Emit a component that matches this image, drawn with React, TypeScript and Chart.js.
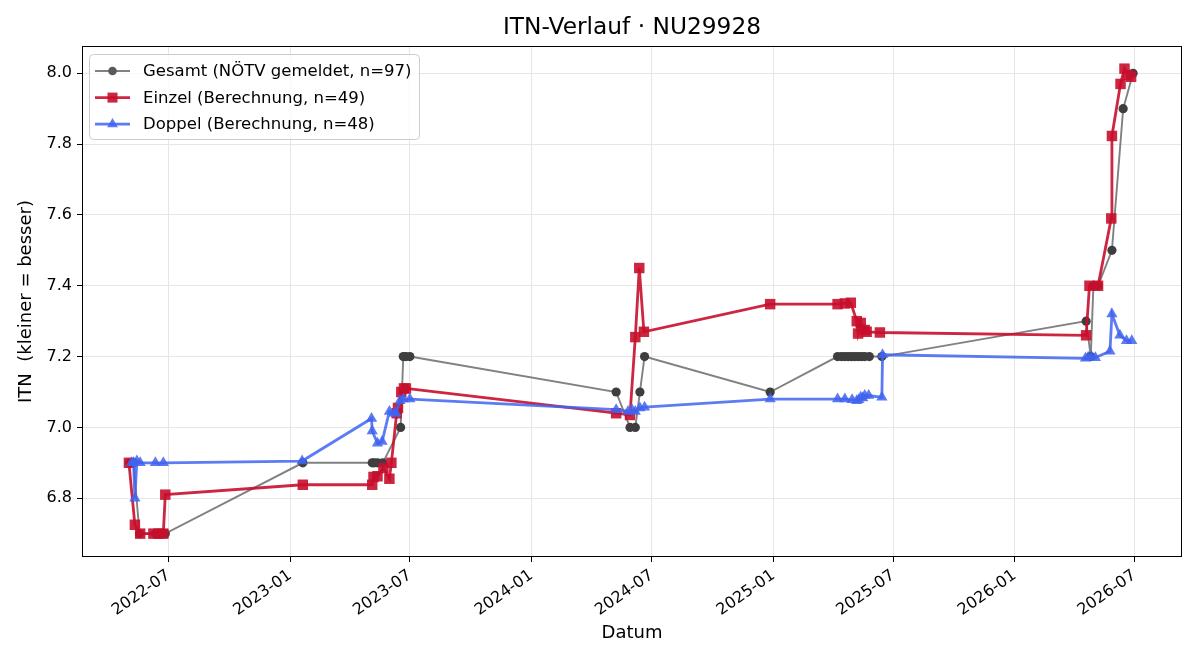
import React, { useEffect, useRef } from "react";
import { Chart, registerables } from "chart.js";

Chart.register(...registerables);

// ---------- data ----------
const gesamtDates = [
  "2022-05-03", "2022-05-06", "2022-05-09", "2022-05-18", "2022-06-11", "2022-06-18", "2022-06-26",
  "2023-01-20", "2023-05-05", "2023-05-08", "2023-05-13", "2023-05-21", "2023-06-17", "2023-06-21", "2023-06-25", "2023-07-01",
  "2024-05-08", "2024-05-29", "2024-06-06", "2024-06-13", "2024-06-20",
  "2024-12-27", "2025-04-08", "2025-04-14", "2025-04-19", "2025-04-24", "2025-04-29", "2025-05-04", "2025-05-09", "2025-05-14", "2025-05-19", "2025-05-26", "2025-06-14",
  "2026-04-19", "2026-04-26", "2026-04-30", "2026-05-07", "2026-05-28", "2026-06-14", "2026-06-29",
];
const gesamtValues = [
  6.9, 6.9, 6.9, 6.7, 6.7, 6.7, 6.7,
  6.9, 6.9, 6.9, 6.9, 6.9, 7.0, 7.2, 7.2, 7.2,
  7.1, 7.0, 7.0, 7.1, 7.2,
  7.1, 7.2, 7.2, 7.2, 7.2, 7.2, 7.2, 7.2, 7.2, 7.2, 7.2, 7.2,
  7.3, 7.2, 7.4, 7.4, 7.5, 7.9, 8.0,
];

const einzelDates = [
  "2022-05-02", "2022-05-11", "2022-05-19", "2022-06-08", "2022-06-16", "2022-06-23", "2022-06-26",
  "2023-01-20", "2023-05-05", "2023-05-07", "2023-05-13", "2023-05-22", "2023-05-31", "2023-06-03", "2023-06-11", "2023-06-13", "2023-06-18", "2023-06-22", "2023-06-25",
  "2024-05-08", "2024-05-29", "2024-06-06", "2024-06-12", "2024-06-19",
  "2024-12-27", "2025-04-08", "2025-04-19", "2025-04-28", "2025-05-07", "2025-05-09", "2025-05-13", "2025-05-19", "2025-05-22", "2025-06-11",
  "2026-04-19", "2026-04-24", "2026-05-07", "2026-05-27", "2026-05-28", "2026-06-10", "2026-06-16", "2026-06-21", "2026-06-26",
];
const einzelValues = [
  6.9, 6.725, 6.7, 6.7, 6.7, 6.7, 6.81,
  6.838, 6.838, 6.86, 6.862, 6.885, 6.855, 6.9, 7.04, 7.055, 7.1, 7.11, 7.11,
  7.04, 7.035, 7.255, 7.45, 7.27,
  7.348, 7.348, 7.35, 7.352, 7.3, 7.265, 7.295, 7.275, 7.27, 7.268,
  7.26, 7.4, 7.4, 7.59, 7.823, 7.97, 8.013, 7.995, 7.99,
];

const doppelDates = [
  "2022-05-06", "2022-05-09", "2022-05-11", "2022-05-14", "2022-05-19", "2022-06-11", "2022-06-23",
  "2023-01-19", "2023-05-04", "2023-05-05", "2023-05-13", "2023-05-20", "2023-05-31", "2023-06-07", "2023-06-10", "2023-06-16", "2023-06-21", "2023-07-01",
  "2024-05-08", "2024-05-26", "2024-06-01", "2024-06-06", "2024-06-13", "2024-06-20",
  "2024-12-27", "2025-04-08", "2025-04-19", "2025-04-30", "2025-05-07", "2025-05-10", "2025-05-13", "2025-05-16", "2025-05-19", "2025-05-25", "2025-06-14", "2025-06-15",
  "2026-04-18", "2026-04-22", "2026-04-27", "2026-05-03", "2026-05-25", "2026-05-28", "2026-06-09", "2026-06-19", "2026-06-27",
];
const doppelValues = [
  6.9, 6.9, 6.8, 6.905, 6.9, 6.9, 6.9,
  6.905, 7.025, 6.99, 6.955, 6.96, 7.045, 7.04, 7.04, 7.075, 7.08, 7.08,
  7.05, 7.045, 7.05, 7.045, 7.055, 7.057,
  7.08, 7.08, 7.08, 7.078, 7.075, 7.078, 7.085, 7.083, 7.09, 7.09, 7.085, 7.205,
  7.195, 7.198, 7.2, 7.197, 7.215, 7.32, 7.26, 7.245, 7.245,
];

const xTickLabels = ["2022-07", "2023-01", "2023-07", "2024-01", "2024-07", "2025-01", "2025-07", "2026-01", "2026-07"];
const yTickValues = [6.8, 7.0, 7.2, 7.4, 7.6, 7.8, 8.0];

const xRange = ["2022-02-20", "2026-09-11"];
const yRange = [6.634, 8.077];

const titleText = "ITN-Verlauf · NU29928";
const xAxisTitle = "Datum";
const yAxisTitle = "ITN  (kleiner = besser)";
const legendLabels = [
  "Gesamt (NÖTV gemeldet, n=97)",
  "Einzel (Berechnung, n=49)",
  "Doppel (Berechnung, n=48)",
];

// ---------- helpers ----------
const toTs = (s: string) => {
  const [y, m, d] = s.split("-").map(Number);
  return Date.UTC(y, m - 1, d || 1);
};
const pts = (dates: string[], vals: number[]) => dates.map((d, i) => ({ x: toTs(d), y: vals[i] }));

const FONT = "'DejaVu Sans', sans-serif";
const GRAY_LINE = "rgba(80,80,80,0.72)";
const GRAY_PT = "#3e3e3e";
const RED = "rgba(198,14,44,0.9)";
const BLUE = "rgba(65,100,240,0.85)";

const decorPlugin = {
  id: "decor",
  afterDraw(chart: any) {
    const { ctx, chartArea } = chart;
    const { left, right, top, bottom } = chartArea;
    ctx.save();
    // spines
    ctx.strokeStyle = "#000";
    ctx.lineWidth = 1;
    ctx.strokeRect(Math.round(left) + 0.5, Math.round(top) + 0.5, Math.round(right - left) - 1, Math.round(bottom - top) - 1);

    // title
    ctx.fillStyle = "#000";
    ctx.textAlign = "center";
    ctx.textBaseline = "middle";
    ctx.font = `23.3px ${FONT}`;
    ctx.fillText(titleText, (left + right) / 2, 28);

    // axis titles
    ctx.font = `18px ${FONT}`;
    ctx.fillText(xAxisTitle, (left + right) / 2, 633);
    ctx.save();
    ctx.translate(26, (top + bottom) / 2);
    ctx.rotate(-Math.PI / 2);
    ctx.fillText(yAxisTitle, 0, 0);
    ctx.restore();

    // legend
    const bx = 89.5, by = 54.5, bw = 330, bh = 85;
    ctx.beginPath();
    (ctx as any).roundRect(bx, by, bw, bh, 4);
    ctx.fillStyle = "rgba(255,255,255,0.8)";
    ctx.fill();
    ctx.strokeStyle = "#cccccc";
    ctx.lineWidth = 1;
    ctx.stroke();

    const rows = [
      { line: GRAY_LINE, lw: 2, pt: "#5a5a5a", shape: "circle" },
      { line: RED, lw: 2.8, pt: RED, shape: "rect" },
      { line: BLUE, lw: 2.8, pt: BLUE, shape: "triangle" },
    ];
    rows.forEach((r, i) => {
      const y = 71 + i * 26.6;
      ctx.strokeStyle = r.line;
      ctx.lineWidth = r.lw;
      ctx.beginPath();
      ctx.moveTo(95, y);
      ctx.lineTo(130, y);
      ctx.stroke();
      ctx.fillStyle = r.pt;
      const cx = 112.5;
      ctx.beginPath();
      if (r.shape === "circle") {
        ctx.arc(cx, y, 4.3, 0, Math.PI * 2);
      } else if (r.shape === "rect") {
        ctx.rect(cx - 5, y - 5, 10, 10);
      } else {
        const rr = 6.3;
        ctx.moveTo(cx, y - rr);
        ctx.lineTo(cx + rr * Math.sin((2 * Math.PI) / 3), y - rr * Math.cos((2 * Math.PI) / 3));
        ctx.lineTo(cx + rr * Math.sin((4 * Math.PI) / 3), y - rr * Math.cos((4 * Math.PI) / 3));
        ctx.closePath();
      }
      ctx.fill();
      ctx.fillStyle = "#000";
      ctx.textAlign = "left";
      ctx.textBaseline = "middle";
      ctx.font = `16.5px ${FONT}`;
      ctx.fillText(legendLabels[i], 143, y + 1);
    });
    ctx.restore();
  },
};

export default function App() {
  const ref = useRef<HTMLCanvasElement | null>(null);

  useEffect(() => {
    document.body.style.margin = "0";
    const canvas = ref.current;
    if (!canvas) return;
    const chart = new Chart(canvas, {
      type: "line",
      data: {
        datasets: [
          {
            label: legendLabels[0],
            data: pts(gesamtDates, gesamtValues),
            borderColor: GRAY_LINE,
            borderWidth: 1.9,
            pointStyle: "circle",
            pointRadius: 4.6,
            pointBackgroundColor: GRAY_PT,
            pointBorderColor: GRAY_PT,
            pointBorderWidth: 0,
            tension: 0,
            order: 3,
          },
          {
            label: legendLabels[1],
            data: pts(einzelDates, einzelValues),
            borderColor: RED,
            borderWidth: 2.8,
            pointStyle: "rect",
            pointRadius: 7.4,
            pointBackgroundColor: RED,
            pointBorderColor: RED,
            pointBorderWidth: 0,
            tension: 0,
            order: 2,
          },
          {
            label: legendLabels[2],
            data: pts(doppelDates, doppelValues),
            borderColor: BLUE,
            borderWidth: 2.8,
            pointStyle: "triangle",
            pointRadius: 6.5,
            pointBackgroundColor: BLUE,
            pointBorderColor: BLUE,
            pointBorderWidth: 0,
            tension: 0,
            order: 1,
          },
        ],
      },
      options: {
        animation: false,
        responsive: false,
        devicePixelRatio: 1,
        layout: { padding: { top: 46, right: 18, left: 0, bottom: 0 } },
        plugins: {
          legend: { display: false },
          title: { display: false },
          tooltip: { enabled: false },
        },
        scales: {
          x: {
            type: "linear",
            min: toTs(xRange[0]),
            max: toTs(xRange[1]),
            afterBuildTicks: (scale: any) => {
              scale.ticks = xTickLabels.map((l) => ({ value: toTs(l) }));
            },
            afterFit: (scale: any) => {
              scale.height = 103;
            },
            ticks: {
              autoSkip: false,
              minRotation: 35,
              maxRotation: 35,
              padding: 4,
              color: "#000",
              font: { family: FONT, size: 16 },
              callback: (v: any) => {
                const d = new Date(Number(v));
                return `${d.getUTCFullYear()}-${String(d.getUTCMonth() + 1).padStart(2, "0")}`;
              },
            },
            grid: {
              color: "#e6e6e6",
              lineWidth: 1,
              drawTicks: true,
              tickLength: 5,
              tickColor: "#000",
              tickWidth: 1,
            },
            border: { display: false },
          },
          y: {
            type: "linear",
            min: yRange[0],
            max: yRange[1],
            afterBuildTicks: (scale: any) => {
              scale.ticks = yTickValues.map((v) => ({ value: v }));
            },
            afterFit: (scale: any) => {
              scale.width = 82;
            },
            ticks: {
              padding: 5,
              color: "#000",
              font: { family: FONT, size: 16 },
              callback: (v: any) => Number(v).toFixed(1),
            },
            grid: {
              color: "#e6e6e6",
              lineWidth: 1,
              drawTicks: true,
              tickLength: 5,
              tickColor: "#000",
              tickWidth: 1,
            },
            border: { display: false },
          },
        },
      },
      plugins: [decorPlugin],
    } as any);
    return () => chart.destroy();
  }, []);

  return (
    <div style={{ position: "absolute", left: 0, top: 0, width: 1200, height: 660, background: "#fff" }}>
      <canvas ref={ref} width={1200} height={660} />
    </div>
  );
}
